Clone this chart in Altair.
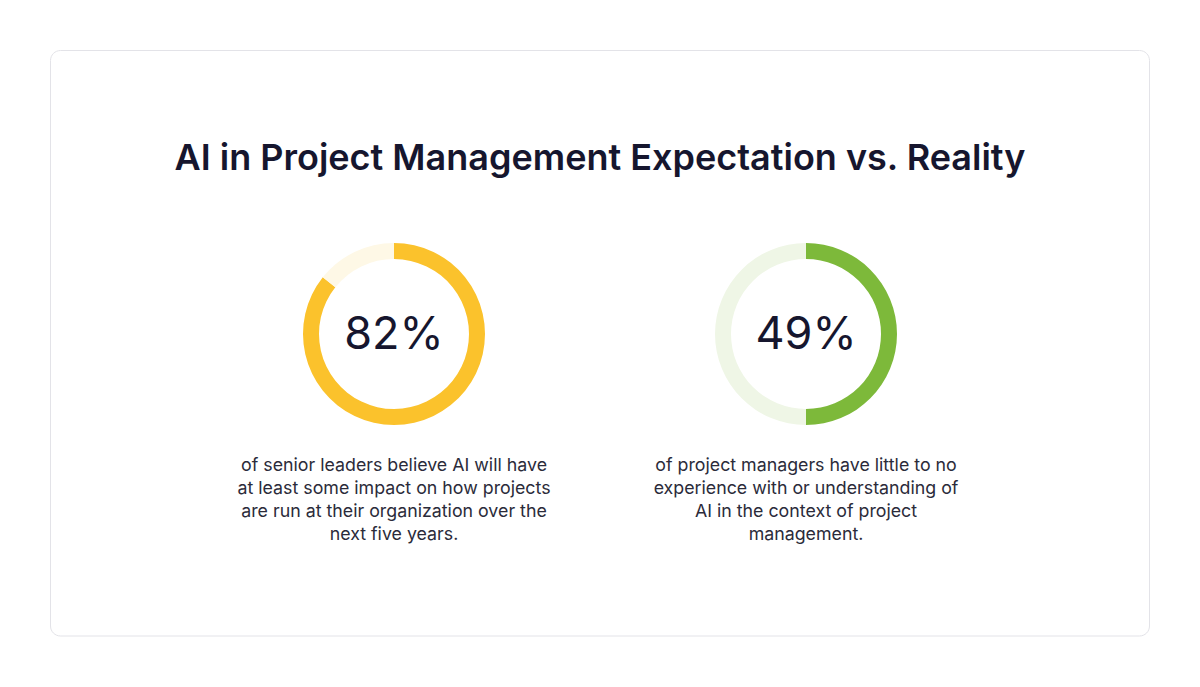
import altair as alt
import pandas as pd

TITLE = "AI in Project Management Expectation vs. Reality"
keys = ["a", "b"]
percents = [82, 49]              # printed figures
arc_shares = [85.7, 50.0]        # share of ring drawn filled
descriptions = [
    "of senior leaders believe AI will have\nat least some impact on how projects\nare run at their organization over the\nnext five years.",
    "of project managers have little to no\nexperience with or understanding of\nAI in the context of project\nmanagement.",
]

seg_rows = []
for k, s in zip(keys, arc_shares):
    seg_rows.append({"key": k, "seg": k + "-fill", "order": 0, "value": s})
    seg_rows.append({"key": k, "seg": k + "-rest", "order": 1, "value": 100 - s})
segs = pd.DataFrame(seg_rows)
labels = pd.DataFrame({"key": keys, "pct": [f"{p}%" for p in percents], "desc": descriptions})

color_scale = alt.Scale(
    domain=["a-fill", "a-rest", "b-fill", "b-rest"],
    range=["#FBC22C", "#FEF8E6", "#7DB93A", "#EFF6E6"],
)

FONT = "Inter"
centers = {"a": 386, "b": 798}
CY = 326

card = alt.Chart(alt.Data(values=[{}])).mark_rect(
    fill="#ffffff", stroke="#E3E3E8", strokeWidth=1, cornerRadius=10
).encode(
    x=alt.value(42.5), x2=alt.value(1141.5), y=alt.value(42.5), y2=alt.value(628)
)

title = alt.Chart(alt.Data(values=[{}])).mark_text(
    text=TITLE, font=FONT, fontSize=36, fontWeight=600, color="#16162E",
    align="center", baseline="middle"
).encode(x=alt.value(592), y=alt.value(151))

layers = [card, title]
for k in keys:
    cx = centers[k]
    donut = alt.Chart(segs).transform_filter(alt.datum.key == k).mark_arc(
        outerRadius=91, innerRadius=75
    ).encode(
        theta=alt.Theta("value:Q", stack=True, scale=alt.Scale(domain=[0, 100])),
        order=alt.Order("order:Q"),
        color=alt.Color("seg:N", scale=color_scale, legend=None),
        x=alt.value(cx), y=alt.value(CY),
    )
    pct = alt.Chart(labels).transform_filter(alt.datum.key == k).mark_text(
        font=FONT, fontSize=45, fontWeight=400, color="#16162E",
        align="center", baseline="middle"
    ).encode(text="pct:N", x=alt.value(cx), y=alt.value(CY + 1))
    desc = alt.Chart(labels).transform_filter(alt.datum.key == k).mark_text(
        font=FONT, fontSize=17.8, fontWeight=400, color="#2B2B3A",
        align="center", baseline="middle", lineBreak="\n", lineHeight=23
    ).encode(text="desc:N", x=alt.value(cx), y=alt.value(458))
    layers += [donut, pct, desc]

chart = alt.layer(*layers).resolve_scale(theta="shared").properties(
    width=1184, height=671, padding=0, autosize=alt.AutoSizeParams(type="none"),
    background="#ffffff"
).configure_view(stroke=None)

chart.save("out.html", embed_options={"renderer": "svg", "actions": False})
